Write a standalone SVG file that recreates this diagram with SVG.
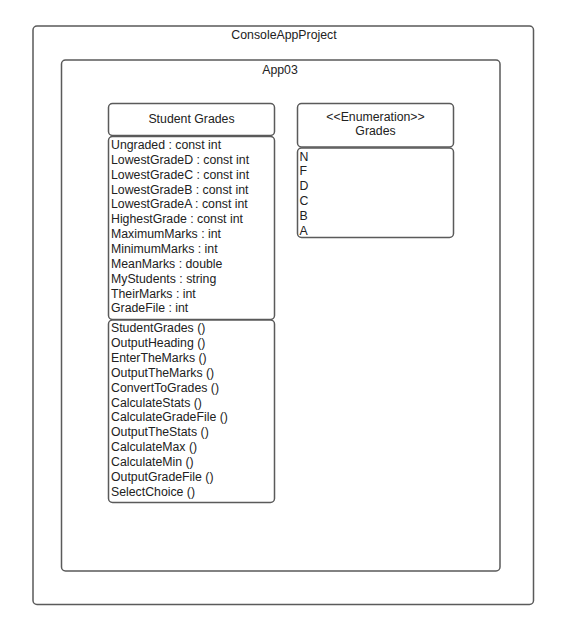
<svg xmlns="http://www.w3.org/2000/svg" width="563" height="631" viewBox="0 0 563 631">
<style>
.box{fill:#ffffff;stroke:#5a5a5a;stroke-width:1.5}
.t{font-family:"Liberation Sans",Arial,sans-serif;font-size:12.3px;fill:#222222}
.c{text-anchor:middle}
</style>
<rect width="563" height="631" fill="#ffffff"/>
<g id="ConsoleAppProject">
<rect class="box" x="33" y="26" width="500.5" height="578.5" rx="4"/>
<text class="t c" x="284" y="39">ConsoleAppProject</text>
</g>
<g id="App03">
<rect class="box" x="61.5" y="60" width="438.5" height="511" rx="4"/>
<text class="t c" x="280" y="74">App03</text>
</g>
<g id="StudentGrades">
<rect class="box" x="108.5" y="103.5" width="166" height="32" rx="4"/>
<text class="t c" x="191.5" y="122.5">Student Grades</text>
<rect class="box" x="108.5" y="136.5" width="166" height="183" rx="4"/>
<g class="t">
<text x="111" y="149">Ungraded : const int</text>
<text x="111" y="163.9">LowestGradeD : const int</text>
<text x="111" y="178.7">LowestGradeC : const int</text>
<text x="111" y="193.6">LowestGradeB : const int</text>
<text x="111" y="208.4">LowestGradeA : const int</text>
<text x="111" y="223.3">HighestGrade : const int</text>
<text x="111" y="238.1">MaximumMarks : int</text>
<text x="111" y="253">MinimumMarks : int</text>
<text x="111" y="267.8">MeanMarks : double</text>
<text x="111" y="282.7">MyStudents : string</text>
<text x="111" y="297.5">TheirMarks : int</text>
<text x="111" y="312.4">GradeFile : int</text>
</g>
<rect class="box" x="108.5" y="320" width="166" height="182.5" rx="4"/>
<g class="t">
<text x="111" y="332.3">StudentGrades ()</text>
<text x="111" y="347.1">OutputHeading ()</text>
<text x="111" y="362">EnterTheMarks ()</text>
<text x="111" y="376.8">OutputTheMarks ()</text>
<text x="111" y="391.7">ConvertToGrades ()</text>
<text x="111" y="406.5">CalculateStats ()</text>
<text x="111" y="421.4">CalculateGradeFile ()</text>
<text x="111" y="436.2">OutputTheStats ()</text>
<text x="111" y="451.1">CalculateMax ()</text>
<text x="111" y="465.9">CalculateMin ()</text>
<text x="111" y="480.8">OutputGradeFile ()</text>
<text x="111" y="495.6">SelectChoice ()</text>
</g>
</g>
<g id="GradesEnum">
<rect class="box" x="297.5" y="103.5" width="156" height="43.5" rx="4"/>
<text class="t c" x="375.5" y="121">&lt;&lt;Enumeration&gt;&gt;</text>
<text class="t c" x="375.5" y="135">Grades</text>
<rect class="box" x="297.5" y="148" width="156" height="89.5" rx="4"/>
<g class="t">
<text x="299.5" y="160.5">N</text>
<text x="299.5" y="175.3">F</text>
<text x="299.5" y="190.2">D</text>
<text x="299.5" y="205">C</text>
<text x="299.5" y="219.9">B</text>
<text x="299.5" y="234.7">A</text>
</g>
</g>
<g id="connectors"></g>
</svg>
